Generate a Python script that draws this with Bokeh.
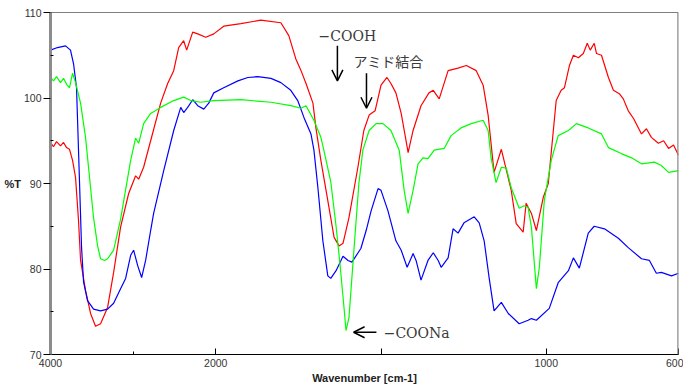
import numpy as np
from bokeh.plotting import figure
from bokeh.models import Range1d, FixedTicker, Span, Label, Arrow, OpenHead
from bokeh.embed import file_html
from bokeh.resources import INLINE

# ---------------- data (wavenumber cm-1, %T) ----------------
red_wn = [4000, 3964, 3927, 3879, 3842, 3806, 3770, 3733, 3697, 3661, 3636, 3576, 3515, 3455, 3394,
          3309, 3236, 3152, 3055, 2970, 2933, 2873, 2788, 2667, 2582, 2509, 2449, 2388, 2352, 2279,
          2218, 2121, 2024, 1976, 1924, 1864, 1803, 1779, 1758, 1742, 1727, 1706, 1697, 1682, 1661,
          1642, 1627, 1615, 1597, 1570, 1552, 1536, 1518, 1500, 1482, 1470, 1455, 1439, 1427, 1418,
          1403, 1379, 1355, 1342, 1324, 1297, 1267, 1242, 1212, 1191, 1176, 1158, 1136, 1106, 1091,
          1070, 1061, 1045, 1030, 1009, 994, 970, 955, 945, 930, 918, 903, 888, 876, 867, 855, 848,
          833, 812, 797, 779, 767, 752, 736, 712, 697, 682, 661, 645, 630, 615, 600]
red_t = [94.8, 94.3, 94.9, 94.4, 94.8, 94.2, 94.0, 92.7, 90.7, 85.7, 81.0, 77.5, 74.8, 73.3, 73.6,
         75.5, 79.6, 84.9, 88.8, 90.9, 90.5, 91.9, 95.0, 99.4, 101.7, 103.2, 105.9, 106.7, 105.6, 107.7,
         107.5, 107.1, 107.5, 108.4, 108.7, 109.1, 108.8, 107.3, 104.6, 103.2, 101.7, 99.4, 96.5, 92.7, 88.0,
         83.7, 82.7, 83.0, 86.0, 91.9, 96.2, 98.0, 98.5, 101.5, 102.4, 101.7, 100.6, 98.2, 95.6, 93.6,
         96.2, 99.1, 100.6, 100.9, 99.9, 103.2, 103.5, 103.8, 103.2, 101.5, 98.0, 91.3, 94.0, 89.2, 85.3,
         84.3, 87.7, 86.5, 84.5, 88.4, 90.0, 99.7, 100.9, 101.2, 103.8, 105.0, 104.7, 105.2, 106.4, 105.6, 106.4, 105.2,
         105.0, 102.4, 100.9, 100.5, 99.9, 98.5, 97.6, 95.8, 96.4, 95.4, 94.7, 95.0, 94.1, 94.5, 93.3]

blue_wn = [4000, 3915, 3818, 3758, 3721, 3685, 3661, 3624, 3600, 3552, 3479, 3394, 3309, 3236, 3152,
           3091, 3030, 2994, 2945, 2897, 2849, 2788, 2752, 2630, 2509, 2424, 2388, 2340, 2279, 2218,
           2145, 2085, 2024, 1976, 1933, 1903, 1873, 1833, 1803, 1773, 1752, 1733, 1712, 1703, 1691,
           1676, 1661, 1652, 1636, 1615, 1600, 1588, 1561, 1545, 1530, 1509, 1500, 1479, 1455, 1439,
           1421, 1403, 1394, 1379, 1358, 1342, 1327, 1318, 1297, 1282, 1267, 1249, 1218, 1203, 1188,
           1173, 1158, 1136, 1115, 1082, 1055, 1045, 1030, 991, 964, 933, 918, 900, 873, 855, 824,
           782, 752, 712, 688, 667, 652, 621, 600]
blue_t = [105.6, 105.9, 106.1, 105.6, 104.0, 101.2, 93.9, 82.5, 78.5, 76.3, 75.3, 75.1, 75.3, 76.0, 77.7,
          78.9, 81.6, 82.2, 80.4, 79.0, 81.0, 84.5, 86.5, 91.5, 96.2, 98.9, 98.3, 98.9, 99.8, 99.1,
          98.7, 99.4, 100.6, 101.2, 102.0, 102.4, 102.5, 102.3, 101.8, 100.9, 99.7, 97.7, 95.8, 93.9, 89.5,
          83.3, 79.2, 78.9, 79.8, 81.5, 81.0, 80.8, 82.4, 84.5, 86.8, 89.4, 89.2, 86.8, 83.3, 82.2,
          80.2, 81.8, 81.0, 78.7, 81.0, 81.9, 81.0, 80.2, 81.3, 84.7, 84.2, 85.4, 86.1, 85.4, 83.3,
          79.0, 75.1, 76.1, 74.8, 73.6, 74.0, 74.2, 74.0, 75.4, 78.4, 79.8, 81.3, 80.1, 84.2, 85.0, 84.7,
          83.6, 82.5, 81.2, 81.0, 79.5, 79.6, 79.2, 79.5]

green_wn = [4000, 3964, 3927, 3879, 3842, 3806, 3770, 3733, 3697, 3636, 3576, 3515, 3479, 3430, 3394,
            3345, 3309, 3236, 3152, 3030, 2970, 2933, 2873, 2788, 2667, 2509, 2388, 2303, 2182, 2024,
            1924, 1833, 1773, 1742, 1727, 1703, 1682, 1673, 1652, 1636, 1624, 1612, 1606, 1597, 1582,
            1567, 1555, 1536, 1515, 1494, 1470, 1445, 1430, 1418, 1403, 1388, 1373, 1358, 1339, 1309,
            1288, 1258, 1227, 1191, 1176, 1167, 1152, 1136, 1121, 1106, 1082, 1067, 1055, 1045, 1030,
            1021, 1006, 985, 964, 933, 909, 873, 833, 812, 773, 742, 712, 673, 652, 630, 600]
green_t = [102.4, 102.0, 102.5, 101.8, 102.3, 101.6, 101.2, 102.9, 101.8, 99.4, 95.4, 89.5, 86.0, 82.7, 81.2,
           81.0, 81.2, 82.2, 85.8, 92.7, 95.3, 94.7, 97.0, 98.2, 98.9, 99.7, 100.1, 99.7, 99.5, 99.7,
           99.8, 99.5, 99.1, 98.8, 99.1, 97.4, 95.4, 93.9, 90.2, 85.0, 80.5, 75.5, 72.8, 74.3, 82.2,
           90.0, 93.9, 96.2, 97.0, 97.0, 96.2, 93.9, 89.2, 86.5, 89.2, 92.3, 93.0, 92.9, 93.9, 94.1,
           95.6, 96.5, 97.0, 97.4, 96.2, 93.0, 90.1, 91.9, 91.8, 89.5, 87.1, 87.4, 87.2, 84.9, 77.7,
           80.2, 88.0, 92.7, 95.6, 96.2, 97.0, 96.5, 95.8, 94.2, 93.5, 93.0, 92.3, 92.5, 92.1, 91.3, 91.5]

x_tick_wn = [4000, 2000, 1500, 1000, 600]
x_tick_labels = ["4000", "2000", "", "1000", "600"]
x_minor_wn = [3000]
y_ticks = [70, 80, 90, 100, 110]
y_minor = [75, 85, 95, 105]


def axis_pos(w):
    """Instrument-style axis: 4000-2000 cm-1 compressed 4x."""
    w = np.asarray(w, dtype=float)
    return np.where(w > 2000, 2000 + (w - 2000) / 4.0, w)


p = figure(width=683, height=387, output_backend="svg", toolbar_location=None,
           x_range=Range1d(float(axis_pos(4000)), 600), y_range=Range1d(70, 110),
           min_border_left=50, min_border_right=5, min_border_top=12, min_border_bottom=33,
           background_fill_color="white", border_fill_color="white")
p.outline_line_color = None
p.grid.visible = False

p.line(axis_pos(red_wn), red_t, line_color="#ff0000", line_width=1.2)
p.line(axis_pos(blue_wn), blue_t, line_color="#0000ff", line_width=1.2)
p.line(axis_pos(green_wn), green_t, line_color="#00ff00", line_width=1.2)

# x axis
xt = [float(v) for v in axis_pos(x_tick_wn)]
p.xaxis.ticker = FixedTicker(ticks=xt, minor_ticks=[float(v) for v in axis_pos(x_minor_wn)])
p.xaxis.major_label_overrides = {t: l for t, l in zip(xt, x_tick_labels)}
p.xaxis.axis_line_color = "black"
p.xaxis.axis_line_width = 1
p.xaxis.major_tick_in = 6
p.xaxis.major_tick_out = 0
p.xaxis.minor_tick_in = 3
p.xaxis.minor_tick_out = 0
p.xaxis.major_label_standoff = 4
p.xaxis.major_label_text_font = "Liberation Sans"
p.xaxis.major_label_text_font_size = "10.5px"
p.xaxis.major_label_text_color = "#333333"
p.xaxis.axis_label = "Wavenumber [cm-1]"
p.xaxis.axis_label_standoff = 2
p.xaxis.axis_label_text_font = "Liberation Sans"
p.xaxis.axis_label_text_font_style = "bold"
p.xaxis.axis_label_text_font_size = "11px"
p.xaxis.axis_label_text_color = "#222222"

# y axis
p.yaxis.ticker = FixedTicker(ticks=y_ticks, minor_ticks=y_minor)
p.yaxis.axis_line_color = "#8c8c8c"
p.yaxis.axis_line_width = 3
p.yaxis.major_tick_in = 0
p.yaxis.major_tick_out = 7
p.yaxis.minor_tick_in = 3
p.yaxis.minor_tick_out = 0
p.yaxis.major_label_standoff = 2
p.yaxis.major_label_text_font = "Liberation Sans"
p.yaxis.major_label_text_font_size = "10.5px"
p.yaxis.major_label_text_color = "#333333"
p.yaxis.axis_label = "%T"
p.yaxis.axis_label_orientation = "horizontal"
p.yaxis.axis_label_standoff = 0
p.yaxis.axis_label_text_font = "Liberation Sans"
p.yaxis.axis_label_text_font_style = "bold"
p.yaxis.axis_label_text_font_size = "11px"
p.yaxis.axis_label_text_color = "#222222"

# frame: top black, right gray
p.add_layout(Span(location=110, dimension="width", line_color="black", line_width=1))
p.add_layout(Span(location=600, dimension="height", line_color="#8c8c8c", line_width=2.5))

# annotations
ann_font = "DejaVu Serif"
p.add_layout(Label(x=1689, y=107.3, text="−COOH", text_font=ann_font, text_font_size="14px",
                   text_color="#3a3a3a", text_baseline="middle", text_align="left"))
p.add_layout(Label(x=1583, y=104.3, text="アミド結合", text_font="Noto Sans CJK JP",
                   text_font_size="14px", text_color="#3a3a3a", text_baseline="middle",
                   text_align="left"))
p.add_layout(Label(x=1492, y=72.5, text="−COONa", text_font=ann_font, text_font_size="14px",
                   text_color="#3a3a3a", text_baseline="middle", text_align="left"))

p.add_layout(Arrow(end=OpenHead(size=11, line_width=1.5, line_color="black"),
                   x_start=1632, y_start=106.1, x_end=1632, y_end=102.0,
                   line_width=1.5, line_color="black"))
p.add_layout(Arrow(end=OpenHead(size=11, line_width=1.5, line_color="black"),
                   x_start=1544, y_start=102.9, x_end=1544, y_end=98.8,
                   line_width=1.5, line_color="black"))
p.add_layout(Arrow(end=OpenHead(size=11, line_width=1.5, line_color="black"),
                   x_start=1514, y_start=72.6, x_end=1583, y_end=72.6,
                   line_width=1.5, line_color="black"))

open("out.html", "w").write(file_html(p, INLINE))
